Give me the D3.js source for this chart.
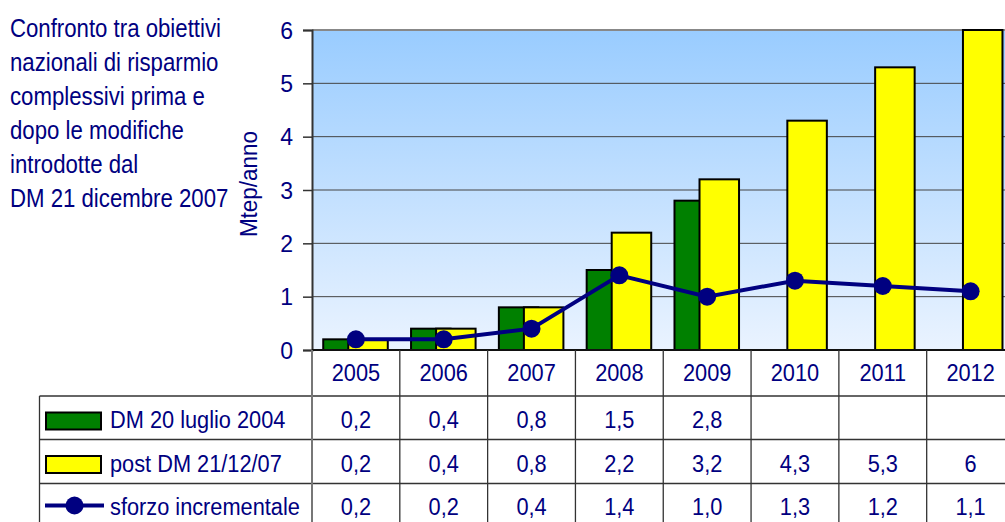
<!DOCTYPE html>
<html><head><meta charset="utf-8">
<script src="https://cdn.jsdelivr.net/npm/d3@7"></script>
<style>
html,body{margin:0;padding:0;background:#fff;overflow:hidden}
text{font-family:"Liberation Sans Narrow","Arial Narrow","Liberation Sans",Arial,sans-serif;fill:#000080}
</style></head>
<body>
<svg id="c" width="1005" height="522"></svg>
<script>
const years = ["2005","2006","2007","2008","2009","2010","2011","2012"];
const dm2004 = [0.2,0.4,0.8,1.5,2.8,null,null,null];
const post07 = [0.2,0.4,0.8,2.2,3.2,4.3,5.3,6];
const sforzo = [0.2,0.2,0.4,1.4,1.0,1.3,1.2,1.1];
const dm2004Labels = ["0,2","0,4","0,8","1,5","2,8","","",""];
const post07Labels = ["0,2","0,4","0,8","2,2","3,2","4,3","5,3","6"];
const sforzoLabels = ["0,2","0,2","0,4","1,4","1,0","1,3","1,2","1,1"];
const yTicks = [0,1,2,3,4,5,6];
const seriesNames = ["DM 20 luglio 2004","post DM 21/12/07","sforzo incrementale"];
const titleLines = ["Confronto tra obiettivi","nazionali di risparmio","complessivi prima e","dopo le modifiche","introdotte dal","DM 21 dicembre 2007"];

const svg = d3.select("#c");
const x = d3.scaleBand().domain(years).range([312, 1014.5]).padding(0);
const y = d3.scaleLinear().domain([0,6]).range([350,30]);
const bw = x.bandwidth();

// gradient background
const defs = svg.append("defs");
const g = defs.append("linearGradient").attr("id","bg").attr("x1",0).attr("y1",0).attr("x2",0).attr("y2",1);
g.append("stop").attr("offset","0%").attr("stop-color","#99ccff");
g.append("stop").attr("offset","100%").attr("stop-color","#eaf3ff");
svg.append("rect").attr("x",x.range()[0]).attr("y",y(6)).attr("width",x.range()[1]-x.range()[0]).attr("height",y(0)-y(6)).attr("fill","url(#bg)");

// gridlines
svg.append("g").selectAll("line").data(yTicks.filter(d=>d>0&&d<6)).join("line")
  .attr("x1",x.range()[0]).attr("x2",x.range()[1]).attr("y1",d=>y(d)).attr("y2",d=>y(d))
  .attr("stroke","#444").attr("stroke-width",1);
svg.append("line").attr("x1",x.range()[0]).attr("x2",x.range()[1]).attr("y1",y(6)).attr("y2",y(6)).attr("stroke","#888").attr("stroke-width",2);

// y axis
const yAxis = d3.axisLeft(y).tickValues(yTicks).tickSize(9).tickPadding(10).tickFormat(d3.format("d"));
const ya = svg.append("g").attr("transform",`translate(${x.range()[0]},0)`).call(yAxis);
ya.select(".domain").attr("stroke","#333").attr("stroke-width",2);
ya.selectAll(".tick line").attr("stroke","#333").attr("stroke-width",1.5);
ya.selectAll(".tick text").style("font-size","23px").style("fill","#000080").style("font-family",'"Liberation Sans Narrow","Arial Narrow","Liberation Sans",Arial,sans-serif').attr("dy","0.36em");

svg.append("text").attr("transform",`translate(257,184) rotate(-90) scale(1.0,1.05)`).attr("text-anchor","middle").style("font-size","22.5px").text("Mtep/anno");

// bars
const barW = bw*0.45;
svg.append("g").selectAll("rect").data(years.map((yr,i)=>({yr,v:dm2004[i]})).filter(d=>d.v!=null)).join("rect")
  .attr("x",d=>x(d.yr)+bw*0.128).attr("width",barW).attr("y",d=>y(d.v)).attr("height",d=>y(0)-y(d.v))
  .attr("fill","#008000").attr("stroke","#000").attr("stroke-width",2);
svg.append("g").selectAll("rect").data(years.map((yr,i)=>({yr,v:post07[i]}))).join("rect")
  .attr("x",d=>x(d.yr)+bw*0.413).attr("width",barW).attr("y",d=>y(d.v)).attr("height",d=>y(0)-y(d.v))
  .attr("fill","#ffff00").attr("stroke","#000").attr("stroke-width",2);

// line
const line = d3.line().x((d,i)=>x(years[i])+bw/2).y(d=>y(d));
svg.append("path").datum(sforzo).attr("d",line).attr("fill","none").attr("stroke","#000080").attr("stroke-width",4);
svg.append("g").selectAll("circle").data(sforzo).join("circle")
  .attr("cx",(d,i)=>x(years[i])+bw/2).attr("cy",d=>y(d)).attr("r",9).attr("fill","#000080");

// x axis line
svg.append("line").attr("x1",x.range()[0]).attr("x2",x.range()[1]).attr("y1",y(0)).attr("y2",y(0)).attr("stroke","#111").attr("stroke-width",2);

// table
const rowY = [350,396,439.5,483.5,527];
const tLeft = 39.5;
const tbl = svg.append("g").attr("stroke","#333").attr("stroke-width",1.3);
rowY.slice(1).forEach(yy=>tbl.append("line").attr("x1",tLeft).attr("x2",x.range()[1]).attr("y1",yy).attr("y2",yy));
tbl.append("line").attr("x1",tLeft).attr("x2",tLeft).attr("y1",rowY[1]).attr("y2",rowY[4]);
years.forEach(yr=>tbl.append("line").attr("x1",x(yr)).attr("x2",x(yr)).attr("y1",rowY[0]).attr("y2",rowY[4]).attr("stroke",yr==="2005"?"#777":"#333").attr("stroke-width",yr==="2005"?2:1.3));

const fs = "22px";
const sx = "scale(0.99,1.07)";
svg.append("g").selectAll("text").data(years).join("text")
  .attr("transform",d=>`translate(${x(d)+bw/2},381) ${sx}`).attr("text-anchor","middle").style("font-size",fs).text(d=>d);
[dm2004Labels,post07Labels,sforzoLabels].forEach((arr,r)=>{
  svg.append("g").selectAll("text").data(arr).join("text")
    .attr("transform",(d,i)=>`translate(${x(years[i])+bw/2},${428+r*43.5}) ${sx}`).attr("text-anchor","middle").style("font-size",fs).text(d=>d);
});

// legend keys
svg.append("rect").attr("x",46).attr("y",412.5).attr("width",55).attr("height",17).attr("fill","#008000").attr("stroke","#000").attr("stroke-width",2);
svg.append("rect").attr("x",46).attr("y",456).attr("width",55).attr("height",17).attr("fill","#ffff00").attr("stroke","#000").attr("stroke-width",2);
svg.append("line").attr("x1",45).attr("x2",104).attr("y1",505.5).attr("y2",505.5).attr("stroke","#000080").attr("stroke-width",4);
svg.append("circle").attr("cx",74.5).attr("cy",505.5).attr("r",9).attr("fill","#000080");
seriesNames.forEach((s,i)=>{
  svg.append("text").attr("transform",`translate(110,${428+i*43.5}) ${sx}`).style("font-size",fs).text(s);
});

// title
svg.append("g").selectAll("text").data(titleLines).join("text")
  .attr("transform",(d,i)=>`translate(10,${37+i*34}) scale(0.945,1.08)`).style("font-size","23.5px").text(d=>d);
</script>
</body></html>
